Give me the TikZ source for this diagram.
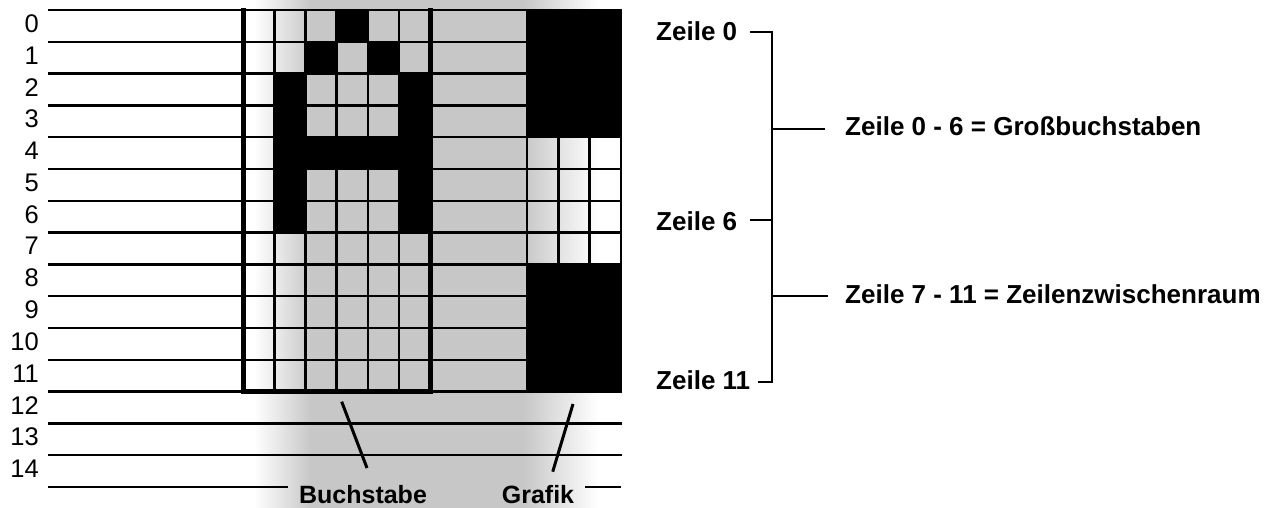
\documentclass[tikz,border=0pt]{standalone}
\usepackage{fontspec}
\setmainfont{Liberation Sans}
\pgfdeclarehorizontalshading{stip}{100bp}{color(0bp)=(white); color(25bp)=(white); color(26.5bp)=(white); color(34bp)=(black!22); color(62bp)=(black!22); color(72bp)=(white); color(75bp)=(white); color(100bp)=(white)}
\begin{document}
\begin{tikzpicture}[x=1pt,y=-1pt,
  rowline/.style={line width=2.4pt},
  gridline/.style={line width=2.6pt},
  thickline/.style={line width=5pt, line join=miter},
  lbl/.style={font=\fontsize{26}{28}\selectfont\bfseries, inner sep=0pt},
  sublbl/.style={font=\fontsize{25}{27}\selectfont\bfseries, inner sep=0pt, anchor=base},
  num/.style={font=\fontsize{25.5}{27}\selectfont, inner sep=0pt, anchor=east},
  ptr/.style={line width=3pt},
  brk/.style={line width=2.8pt}]
\useasboundingbox (0,0) rectangle (1282,508);
% halftone background
\shade[shading=stip] (243,0) rectangle (621,508);
% black cells of the letter A
\foreach \r/\c in {0/3,1/2,1/4,2/1,2/5,3/1,3/5,4/1,4/2,4/3,4/4,4/5,5/1,5/5,6/1,6/5}
  \fill (243+31.2*\c,10+31.8*\r) rectangle ++(31.2,31.8);
% graphics black blocks
\fill (527,10) rectangle (621,137.2);
\fill (527,264.4) rectangle (621,391.6);
% row lines
\foreach \k in {0,...,14}
  \draw[rowline] (48,10+31.8*\k) -- (622,10+31.8*\k);
\draw[rowline] (48,487) -- (288,487);
\draw[rowline] (585,487) -- (621,487);
% letter grid verticals
\foreach \c in {1,...,5}
  \draw[gridline] (243+31.2*\c,10) -- (243+31.2*\c,391.6);
\draw[thickline] (243,8) -- (243,391.6) -- (430.2,391.6) -- (430.2,8);
% graphics verticals
\foreach \x in {527,558.3,589.6,621}
  \draw[gridline] (\x,10) -- (\x,391.6);
% row numbers
\foreach \k in {0,...,14}
  \node[num] (n\k) at (39,10+31.8*\k+13.5) {\k};
% bottom labels and pointers
\node[sublbl] (buch) at (363,503) {Buchstabe};
\node[sublbl] (graf) at (538,503) {Grafik};
\coordinate (bp1) at (341.7,401.7);
\coordinate (bp2) at (367,468);
\coordinate (gp1) at (573,404);
\coordinate (gp2) at (552.7,471.7);
\draw[ptr] (bp1) -- (bp2);
\draw[ptr] (gp1) -- (gp2);
% right side labels
\node[lbl, anchor=west] (z0) at (656,31) {Zeile 0};
\node[lbl, anchor=west] (z6) at (656,221) {Zeile 6};
\node[lbl, anchor=west] (z11) at (656,380) {Zeile 11};
\node[lbl, anchor=west] (g1) at (845,126) {Zeile 0 - 6 = Großbuchstaben};
\node[lbl, anchor=west] (g2) at (845,294) {Zeile 7 - 11 = Zeilenzwischenraum};
\coordinate (t0) at (750,32);
\coordinate (v0) at (772,32);
\coordinate (t6) at (750,220);
\coordinate (v6) at (772,220);
\coordinate (t11) at (758,382);
\coordinate (v11) at (772,382);
\coordinate (b1) at (772,129);
\coordinate (e1) at (825,129);
\coordinate (b2) at (772,296);
\coordinate (e2) at (828,296);
\draw[brk] (t0) -- (v0) -- (v11) -- (t11);
\draw[brk] (t6) -- (v6);
\draw[brk] (b1) -- (e1);
\draw[brk] (b2) -- (e2);
\end{tikzpicture}
\end{document}
